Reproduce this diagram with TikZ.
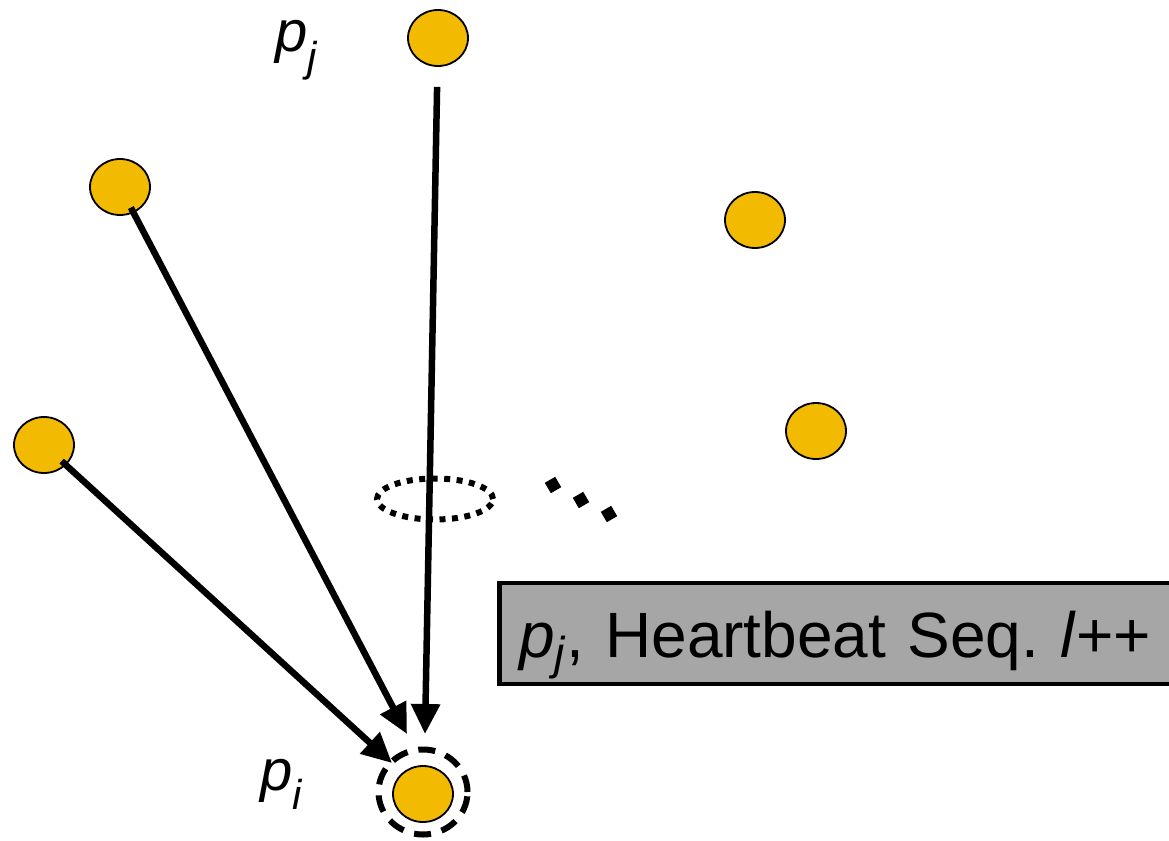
\documentclass[tikz,border=0pt]{standalone}
\usepackage{fontspec}
\setmainfont{Liberation Sans}
\usetikzlibrary{shapes.geometric,arrows.meta}
\definecolor{nodeyellow}{RGB}{242,186,0}
\definecolor{boxgray}{RGB}{166,166,166}
\newcommand{\pidx}[1]{\textit{p\raisebox{-0.33em}{\scalebox{0.72}{#1}}}}
\tikzset{
  proc/.style={ellipse, draw=black, line width=1.8pt, fill=nodeyellow, minimum width=60pt, minimum height=56pt, inner sep=0pt},
  arr/.style={line width=6.5pt, -{Triangle[length=30pt,width=28pt]}},
  lbl/.style={font=\fontsize{58}{62}\selectfont, inner sep=0pt, anchor=base west},
}
\begin{document}
\frenchspacing
\begin{tikzpicture}[x=1pt,y=-1pt]
\useasboundingbox (0,0) rectangle (1169,840);
% processes
\node[proc] (pj) at (438,38) {};
\node[proc] (n2) at (120,187) {};
\node[proc] (n3) at (44,445) {};
\node[proc] (n4) at (755,220) {};
\node[proc] (n5) at (816,431) {};
\node[proc] (pi) at (423,794) {};
% dashed ring around p_i
\node[ellipse, draw=black, line width=6pt, dash pattern=on 17pt off 11pt, minimum width=89pt, minimum height=85pt, inner sep=0pt] (ring) at (423,792) {};
% labels
\node[lbl] (lj) at (275,52) {\pidx{j}};
\node[lbl] (li) at (260,790) {\pidx{i}};
% arrow tips
\coordinate (t1) at (425,734);
\coordinate (t2) at (407,734);
\coordinate (t3) at (392,763);
\draw[arr, shorten <=20pt] (pj) -- (t1);
\draw[arr, shorten <=-6pt] (n2) -- (t2);
\draw[arr, shorten <=-6pt] (n3) -- (t3);
% dotted ellipse
\node[ellipse, draw=black, line width=6pt, dash pattern=on 6pt off 6.5pt, minimum width=116pt, minimum height=41pt, inner sep=0pt] (dotring) at (435,499) {};
% dots
\foreach \x/\y [count=\k] in {553/485, 581/500, 609/514}
  \node[rectangle, fill=black, minimum size=12pt, inner sep=0pt, rotate=30] (dot\k) at (\x,\y) {};
% message box
\node[draw=black, line width=4.5pt, fill=boxgray, anchor=west, minimum width=700pt, minimum height=101pt, inner xsep=17pt, text width=660pt, text height=50pt, text depth=3pt, align=left, font=\fontsize{64}{70}\selectfont] (msg) at (497,633.5) {\textit{p}\raisebox{-0.2em}{\scalebox{0.72}{\textit{j}}}, Heartbeat Seq. \textit{l}++};
\end{tikzpicture}
\end{document}
